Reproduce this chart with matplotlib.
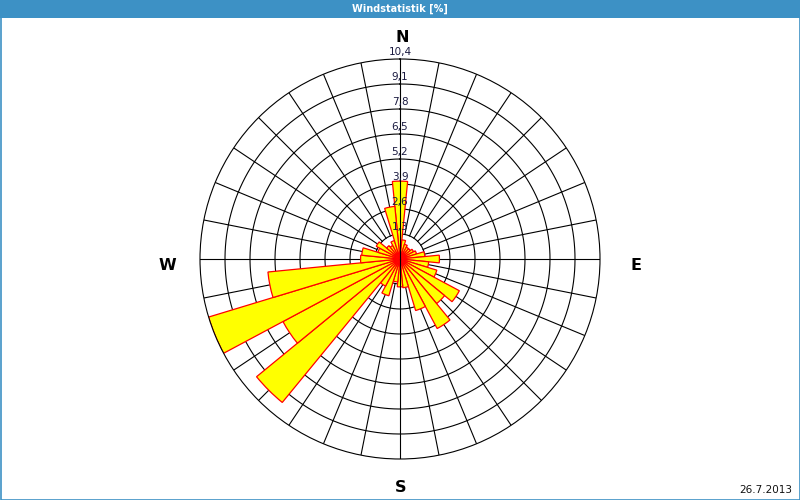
import numpy as np
import matplotlib
matplotlib.use("Agg")
import matplotlib.pyplot as plt
from matplotlib.patches import Rectangle

# wind frequency per direction [%], 32 sectors clockwise from N
directions = np.arange(32) * 11.25
freq = [4.05, 1.0, 0.8, 0.7, 0.7, 0.8, 0.9, 1.3,
        2.05, 1.5, 2.0, 3.5, 3.0, 4.1, 2.8, 1.5,
        1.45, 1.2, 2.0, 1.6, 9.65, 6.9, 10.4, 6.9,
        2.05, 2.0, 1.2, 1.4, 0.9, 0.8, 1.0, 2.75]
rings = [1.3, 2.6, 3.9, 5.2, 6.5, 7.8, 9.1, 10.4]
ring_labels = ["1,3", "2,6", "3,9", "5,2", "6,5", "7,8", "9,1", "10,4"]
compass = ["N", "E", "S", "W"]
title = "Windstatistik [%]"
date = "26.7.2013"

rmax = rings[-1]
rmin = rings[0]
W, H = 800, 500

fig = plt.figure(figsize=(8, 5), dpi=100)
fig.patch.set_facecolor("white")

# title bar and frame
fig.patches.append(Rectangle((0, 1 - 18 / H), 1, 18 / H, transform=fig.transFigure,
                             facecolor="#3d91c5", edgecolor="none", zorder=0))
fig.patches.append(Rectangle((0.5 / W, 0.5 / H), 1 - 1 / W, 1 - 1 / H, transform=fig.transFigure,
                             facecolor="none", edgecolor="#3d91c5", lw=1.2, zorder=5))
fig.text(0.5, 1 - 9 / H, title, color="white", fontsize=7, fontweight="bold",
         ha="center", va="center")
fig.text(1 - 8 / W, 1 - 490 / H, date, fontsize=7.5, ha="right", va="center", color="#111111")

ax = fig.add_axes([0.25, 1 - 459 / H, 0.5, 0.8], projection="polar")
ax.set_theta_zero_location("N")
ax.set_theta_direction(-1)
ax.set_ylim(0, rmax)
ax.grid(False)
ax.set_xticks([])
ax.set_yticks([])
ax.spines["polar"].set_linewidth(0.8)
ax.spines["polar"].set_color("black")
ax.set_facecolor("white")

# rings
th = np.linspace(0, 2 * np.pi, 400)
for r in rings[:-1]:
    ax.plot(th, np.full_like(th, r), color="black", lw=0.8, zorder=1)

# spokes
for d in directions:
    t = np.deg2rad(d)
    if d % 90 == 0:
        continue
    ax.plot([t, t], [rmin, rmax], color="black", lw=0.8, zorder=1)
# main axes
ax.plot([np.pi / 2, np.pi / 2], [0, rmax], color="black", lw=0.8, zorder=1)
ax.plot([3 * np.pi / 2, 3 * np.pi / 2], [0, rmax], color="black", lw=0.8, zorder=1)
ax.plot([0, 0], [0, rmax], color="black", lw=0.8, zorder=3)
ax.plot([np.pi, np.pi], [0, rmax], color="black", lw=0.8, zorder=3)

# bars
ax.bar(np.deg2rad(directions), freq, width=np.deg2rad(11.25), bottom=0,
       color="#ffff00", edgecolor="#ff0000", linewidth=0.9, zorder=2)

# ring labels on north axis
for r, lab in zip(rings, ring_labels):
    ax.text(0, r + 0.1, lab, fontsize=7.5, color="#1a1a40", ha="center", va="bottom", zorder=4)

# compass letters (pixel positions of the reference)
compass_pos = {"N": (402, 37), "E": (636, 265), "S": (401, 488), "W": (167, 265)}
for c in compass:
    x, y = compass_pos[c]
    fig.text(x / W, 1 - y / H, c, fontsize=11.5, fontweight="bold",
             ha="center", va="center", color="black")

fig.savefig("out.png", dpi=100, facecolor="white")
